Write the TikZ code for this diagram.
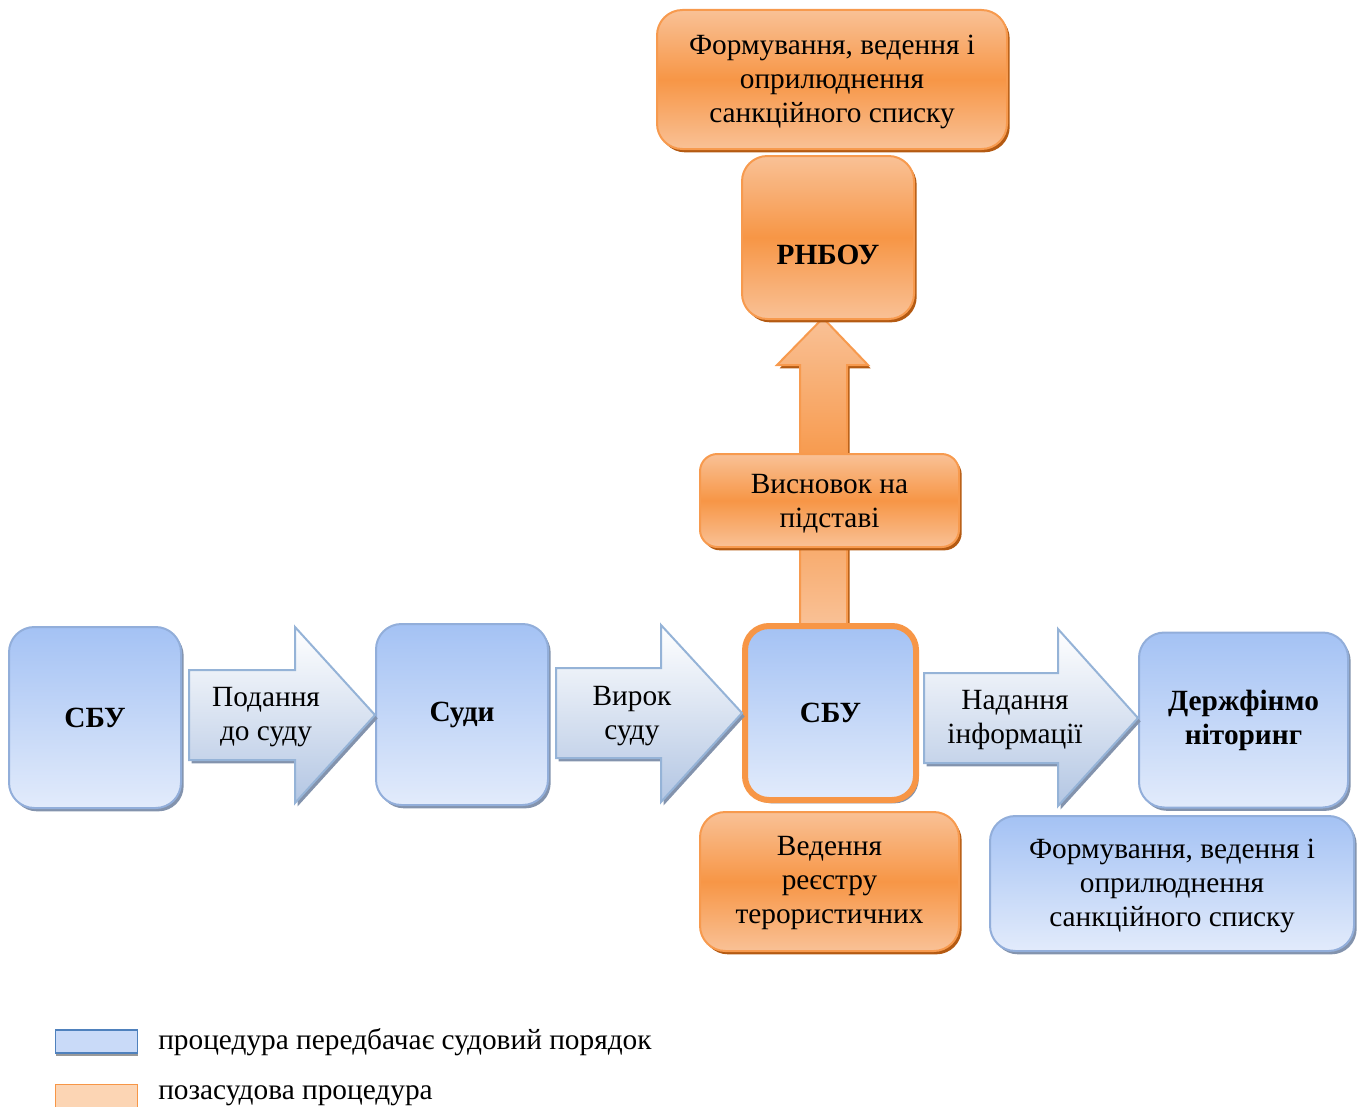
\documentclass[tikz,border=0pt]{standalone}
\usepackage{fontspec}
\setmainfont{Liberation Serif}
\usetikzlibrary{shadows}
\definecolor{bTop}{HTML}{A4C2F4}
\definecolor{bBot}{HTML}{E2EBFB}
\definecolor{bBorder}{HTML}{92AEDA}
\definecolor{bShadow}{HTML}{8393AD}
\definecolor{aTop}{HTML}{FFFFFF}
\definecolor{aBot}{HTML}{B3C6E3}
\definecolor{aBorder}{HTML}{95B3D7}
\definecolor{oLight}{HTML}{F9C196}
\definecolor{oMid}{HTML}{F79646}
\definecolor{oBorder}{HTML}{F79A4E}
\definecolor{oShadow}{HTML}{B45A12}
\definecolor{lgBlueFill}{HTML}{C9DAF8}
\definecolor{lgBlueLine}{HTML}{4F81BD}
\definecolor{lgOrFill}{HTML}{FCD5B4}
\begin{document}
\begin{tikzpicture}[x=0.75pt,y=-0.75pt,
  txt/.style={font=\fontsize{22}{25.5}\selectfont, align=center, inner sep=0pt},
  bluebox/.style={draw=bBorder, line width=1.5pt, top color=bTop, bottom color=bBot,
    inner sep=0pt, align=center, font=\fontsize{22}{25.5}\selectfont,
    drop shadow={shadow xshift=2pt, shadow yshift=-2.5pt, fill=bShadow, opacity=1}},
  orbox/.style={draw=oBorder, line width=1.5pt, top color=oLight, bottom color=oLight, middle color=oMid,
    inner sep=0pt, align=center, font=\fontsize{22}{25.5}\selectfont,
    drop shadow={shadow xshift=2pt, shadow yshift=-2.5pt, fill=oShadow, opacity=1}},
  bluearrow/.style={draw=aBorder, line width=1.5pt, top color=aTop, bottom color=aBot,
    drop shadow={shadow xshift=2pt, shadow yshift=-2.5pt, fill=bShadow, opacity=1}},
  orarrow/.style={draw=oBorder, line width=1.5pt, top color=oLight, bottom color=oLight, middle color=oMid,
    drop shadow={shadow xshift=2pt, shadow yshift=-2.5pt, fill=oShadow, opacity=1}},
]
\useasboundingbox (0,0) rectangle (1362,1106);
\clip (0,0) rectangle (1362,1106);

% vertical orange arrow (behind boxes)
\path[orarrow] (800,625) -- (800,365) -- (777,365) -- (823,318) -- (868,365) -- (847,365) -- (847,625) -- cycle;

% main row boxes
\node[bluebox, rounded corners=19pt, minimum width=129pt, minimum height=135.75pt] (sbu1) at (95,717.5) {\textbf{СБУ}};
\node[bluebox, rounded corners=19pt, minimum width=129pt, minimum height=135.75pt] (sudy) at (462,714.5) {\textbf{Суди}};
\node[bluebox, draw=oMid, line width=4.5pt, rounded corners=18pt, minimum width=128.25pt, minimum height=130.5pt] (sbu2) at (830.5,713) {\textbf{СБУ}};
\node[bluebox, rounded corners=19pt, minimum width=156.75pt, minimum height=131.25pt] (dfm) at (1243.5,720) {\textbf{Держфінмо}\\\textbf{ніторинг}};

% block arrows
\path[bluearrow] (189,670) -- (295,670) -- (295,627) -- (375,715) -- (295,803) -- (295,760) -- (189,760) -- cycle;
\node[txt] (t1) at (266,717) {Подання\\до суду};
\path[bluearrow] (556,668) -- (661,668) -- (661,625) -- (742,713) -- (661,802) -- (661,758) -- (556,758) -- cycle;
\node[txt] (t2) at (632,716) {Вирок\\суду};
\path[bluearrow] (924,673) -- (1058,673) -- (1058,629) -- (1138,718) -- (1058,806) -- (1058,763) -- (924,763) -- cycle;
\node[txt] (t3) at (1015,720) {Надання\\інформації};

% upper orange boxes
\node[orbox, rounded corners=13pt, minimum width=194.25pt, minimum height=69.75pt] (vysn) at (829.5,500.5) {};
\node[txt] (vysnt) at (829.5,504) {Висновок на\\підставі};
\node[orbox, rounded corners=19pt, minimum width=129pt, minimum height=122.25pt] (rnbou) at (828,237.5) {};
\node[txt] (rnbout) at (828,255) {\textbf{РНБОУ}};
\node[orbox, rounded corners=19pt, minimum width=262.5pt, minimum height=104.25pt] (top) at (832,79.5) {};
\node[txt] (topt) at (832,82) {Формування, ведення і\\оприлюднення\\санкційного списку};

% lower boxes
\node[orbox, rounded corners=19pt, minimum width=194.25pt, minimum height=104.25pt] (reg) at (829.5,881.5) {};
\node[txt] (regt) at (829.5,883) {Ведення\\реєстру\\терористичних};
\node[bluebox, rounded corners=19pt, minimum width=273pt, minimum height=101.25pt] (sank) at (1172,883.5) {};
\node[txt] (sankt) at (1172,886) {Формування, ведення і\\оприлюднення\\санкційного списку};

% legend
\node[draw=lgBlueLine, line width=1.2pt, fill=lgBlueFill, minimum width=61.5pt, minimum height=17pt, inner sep=0pt,
  drop shadow={shadow xshift=0pt, shadow yshift=-2.5pt, fill=black!40, opacity=1}] (lg1) at (96.5,1041.5) {};
\node[txt, anchor=west] (lg1t) at (158,1042) {процедура передбачає судовий порядок};
\node[draw=oMid, line width=1.2pt, fill=lgOrFill, minimum width=61.5pt, minimum height=17pt, inner sep=0pt] (lg2) at (96.5,1096) {};
\node[txt, anchor=west] (lg2t) at (158,1096) {позасудова процедура};
\end{tikzpicture}
\end{document}
